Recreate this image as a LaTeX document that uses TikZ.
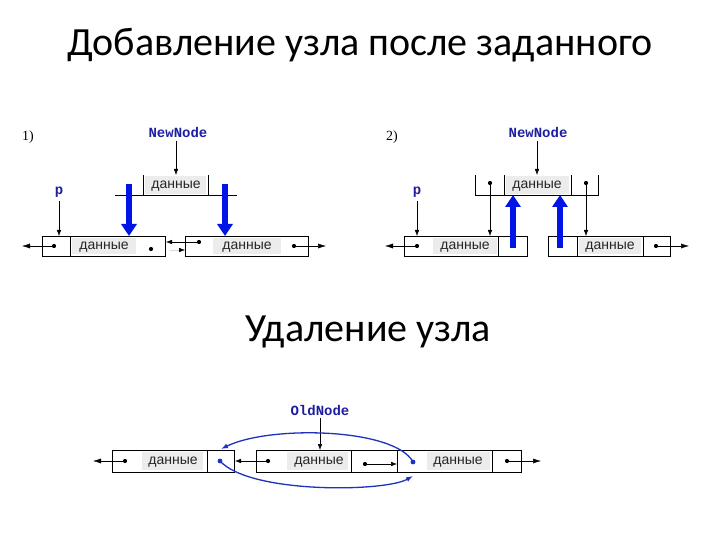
\documentclass[tikz,border=0pt]{standalone}
\usepackage{fontspec}
\setmainfont{Carlito}
\newfontfamily\arialf{Liberation Sans}
\newfontfamily\courf{Liberation Mono}
\newfontfamily\timesf{Liberation Serif}
\usetikzlibrary{arrows.meta,calc}
\definecolor{lblblue}{RGB}{30,30,160}
\definecolor{bigblue}{RGB}{0,20,230}
\definecolor{curveblue}{RGB}{30,50,190}
\definecolor{cellgray}{RGB}{236,236,236}
\tikzset{
  x=1pt,y=-1pt,
  cellbox/.style={draw=black,line width=0.7pt,inner sep=0pt,minimum height=20pt},
  dtext/.style={font=\arialf\fontsize{14}{14}\selectfont,inner sep=0pt,text=black!85,anchor=base},
  graycell/.style={fill=cellgray,draw=none},
  dotmark/.style={circle,fill=black,inner sep=0pt,minimum size=4.2pt},
  bdotmark/.style={circle,fill=curveblue,inner sep=0pt,minimum size=4.8pt},
  ptr/.style={line width=0.5pt,-{Latex[length=6pt,width=4.5pt]}},
  outptr/.style={line width=0.5pt,-{Latex[length=8pt,width=5pt]}},
  bigarrow/.style={draw=bigblue,line width=6pt,-{Triangle[length=12pt,width=15pt]}},
  bluecurve/.style={draw=curveblue,line width=1.3pt,-{Latex[length=7pt,width=5pt]}},
  codelbl/.style={font=\courf\bfseries\fontsize{14}{14}\selectfont,text=lblblue,inner sep=0pt},
  numlbl/.style={font=\timesf\fontsize{14}{14}\selectfont,inner sep=0pt},
  title/.style={font=\fontsize{40}{40}\selectfont,inner sep=0pt},
  divider/.style={line width=0.7pt}
}
\begin{document}
\begin{tikzpicture}
\useasboundingbox (0,0) rectangle (720,540);
\fill[white] (0,0) rectangle (720,540);

% ---------------- Titles ----------------
\node[title] (t1) at (360,45) {Добавление узла после заданного};
\node[title] (t2) at (368,332) {Удаление узла};

% ================= Part 1 =================
\node[numlbl] (n1) at (28,137) {1)};
% left node
\fill[graycell] (72,238) rectangle (136,254);
\node[cellbox,minimum width=123pt] (L1) at (103.5,246) {};
\draw[divider] (70,236) -- (70,256);
\node[dtext] (L1t) at (104,249.5) {данные};
\node[dotmark] (L1a) at (54,246) {};
\node[dotmark] (L1b) at (151,249) {};
% right node
\fill[graycell] (213,238) rectangle (281,254);
\node[cellbox,minimum width=123pt] (R1) at (246.5,246) {};
\node[dtext] (R1t) at (247,249.5) {данные};
\node[dotmark] (R1a) at (199,242) {};
\node[dotmark] (R1b) at (294,246) {};
% new node (open box)
\fill[graycell] (145,176) rectangle (206,194);
\draw[divider] (115,195) -- (237,195);
\draw[divider] (143,175) -- (143,195);
\draw[divider] (208,175) -- (208,195);
\node[dtext] (N1t) at (176,188.5) {данные};
\coordinate (N1top) at (176,175);
% labels
\node[codelbl] (NN1) at (178,132) {NewNode};
\node[codelbl] (P1) at (59,192) {p};
% outer arrows
\coordinate (L1end) at (22,246);
\coordinate (R1end) at (326,246);
\coordinate (L1in) at (166,242);
\coordinate (R1in) at (185,250);
\coordinate (L1ina) at (170,250);
\coordinate (P1t) at (59,236);
\coordinate (NN1s) at (176,141);
\coordinate (P1s) at (59,201);
\draw[outptr] (L1a.center) -- (L1end);
\draw[outptr] (R1b.center) -- (R1end);
\draw[ptr] (R1a.center) -- (L1in);
\draw[line width=0.4pt,draw=black!15,-{Latex[length=6pt,width=4.5pt,fill=black,color=black]}] (L1ina) -- (R1in);
\draw[ptr] (NN1s) -- (N1top);
\draw[ptr] (P1s) -- (P1t);
% big blue arrows
\coordinate (B1a) at (129,184);
\coordinate (B1b) at (129,236);
\coordinate (B2a) at (225,184);
\coordinate (B2b) at (225,236);
\draw[bigarrow] (B1a) -- (B1b);
\draw[bigarrow] (B2a) -- (B2b);

% ================= Part 2 =================
\node[numlbl] (n2) at (392,137) {2)};
% new node (open top)
\fill[graycell] (506,176) rectangle (569,194);
\draw[divider] (475,175) -- (475,195) -- (598,195) -- (598,175);
\draw[divider] (504,175) -- (504,195);
\draw[divider] (571,175) -- (571,195);
\node[dtext] (N2t) at (537,188.5) {данные};
\node[dotmark] (N2a) at (490,183) {};
\node[dotmark] (N2b) at (586,183) {};
\coordinate (N2top) at (537,175);
% left node
\fill[graycell] (433,238) rectangle (497,254);
\node[cellbox,minimum width=123pt] (L2) at (465.5,246) {};
\draw[divider] (498,236) -- (498,256);
\node[dtext] (L2t) at (465,249.5) {данные};
\node[dotmark] (L2a) at (417,246) {};
% right node
\fill[graycell] (579,238) rectangle (641,254);
\node[cellbox,minimum width=122pt] (R2) at (609,246) {};
\draw[divider] (577,236) -- (577,256);
\draw[divider] (643,236) -- (643,256);
\node[dtext] (R2t) at (610,249.5) {данные};
\node[dotmark] (R2b) at (656,246) {};
% labels
\node[codelbl] (NN2) at (538,132) {NewNode};
\node[codelbl] (P2) at (417,192) {p};
\coordinate (L2end) at (385,246);
\coordinate (R2end) at (689,246);
\coordinate (L2hit) at (490,236);
\coordinate (R2hit) at (586,236);
\coordinate (P2t) at (417,236);
\coordinate (NN2s) at (537,141);
\coordinate (P2s) at (417,201);
\draw[outptr] (L2a.center) -- (L2end);
\draw[outptr] (R2b.center) -- (R2end);
\draw[ptr] (N2a.center) -- (L2hit);
\draw[ptr] (N2b.center) -- (R2hit);
\draw[ptr] (NN2s) -- (N2top);
\draw[ptr] (P2s) -- (P2t);
% big blue arrows (up)
\coordinate (B3a) at (513,248);
\coordinate (B3b) at (513,195);
\coordinate (B4a) at (560,248);
\coordinate (B4b) at (560,195);
\draw[bigarrow] (B3a) -- (B3b);
\draw[bigarrow] (B4a) -- (B4b);

% ================= Part 3 =================
% box 1
\fill[graycell] (142,452) rectangle (203,470);
\node[cellbox,minimum width=122pt,minimum height=22pt] (C1) at (173,461) {};
\draw[divider] (207,450) -- (207,472);
\node[dtext] (C1t) at (173,464.5) {данные};
\node[dotmark] (C1a) at (125,461) {};
\node[bdotmark] (C1b) at (220,461) {};
% box 2
\fill[graycell] (287,452) rectangle (348,470);
\node[cellbox,minimum width=141pt,minimum height=22pt] (C2) at (326.5,461) {};
\draw[divider] (351,450) -- (351,472);
\node[dtext] (C2t) at (319,464.5) {данные};
\node[dotmark] (C2a) at (268,461) {};
\node[dotmark] (C2b) at (365,464) {};
% box 3
\fill[graycell] (427,452) rectangle (490,470);
\node[cellbox,minimum width=124pt,minimum height=22pt] (C3) at (459,461) {};
\draw[divider] (492,450) -- (492,472);
\node[dtext] (C3t) at (458,464.5) {данные};
\node[bdotmark] (C3a) at (413,462) {};
\node[dotmark] (C3b) at (507,461) {};
% label
\node[codelbl] (ON) at (320,410) {OldNode};
\coordinate (ONs) at (320,418);
\coordinate (C2top) at (320,450);
\coordinate (C1end) at (93,461);
\coordinate (C3end) at (541,461);
\coordinate (C1in) at (235,461);
\coordinate (C3in) at (397,464);
\coordinate (C1bt) at (221,449);
\coordinate (C3bt) at (413,476);
\draw[outptr] (C1a.center) -- (C1end);
\draw[outptr] (C3b.center) -- (C3end);
\draw[ptr] (C2a.center) -- (C1in);
\draw[ptr] (C2b.center) -- (C3in);
\draw[ptr] (ONs) -- (C2top);
% blue curves
\draw[bluecurve] (C3a.center) .. controls (395,428) and (270,425) .. (C1bt);
\draw[bluecurve] (C1b.center) .. controls (250,494) and (385,492) .. (C3bt);
\end{tikzpicture}
\end{document}
